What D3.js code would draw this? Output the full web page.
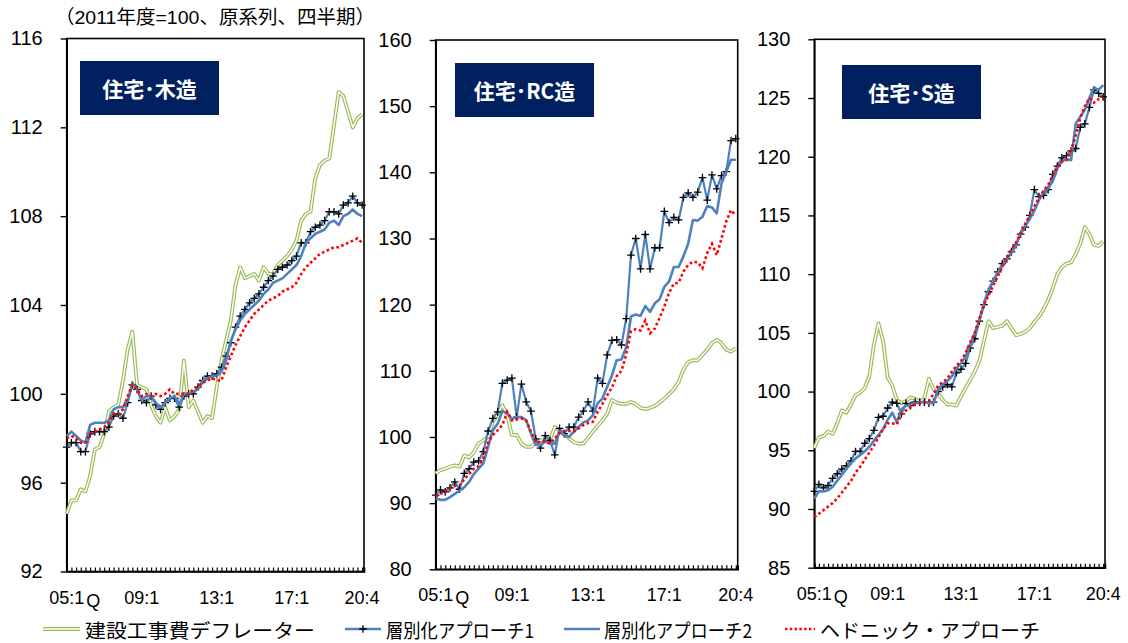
<!DOCTYPE html>
<html>
<head>
<meta charset="utf-8">
<script src="https://cdn.jsdelivr.net/npm/d3@7"></script>
<style>
  body { margin: 0; background: #fff; }
  svg { display: block; font-family: "Liberation Sans", "Noto Sans CJK JP", sans-serif; }
</style>
</head>
<body>
<svg id="chart" width="1128" height="643"></svg>
<script>
// 四半期：2005Q1〜2020Q4（64期）
const tickLabels = [
  { idx: 0, label: "05:1" },
  { idx: 16, label: "09:1" },
  { idx: 32, label: "13:1" },
  { idx: 48, label: "17:1" },
  { idx: 63, label: "20:4" }
];

const seriesNames = ["建設工事費デフレーター", "層別化アプローチ1", "層別化アプローチ2", "ヘドニック・アプローチ"];

// 住宅・木造
const woodDefl = [94.6, 95.2, 95.2, 95.7, 95.6, 96.3, 97.5, 97.6, 98.2, 99.2, 99.4, 99.5, 100.6, 102.0, 102.8, 100.4,
  100.3, 100.2, 99.5, 99.0, 98.7, 99.4, 98.8, 99.0, 99.3, 101.5, 99.4, 99.7, 99.2, 98.7, 99.0, 98.9,
  100.3, 101.5, 102.4, 103.3, 104.9, 105.7, 105.2, 105.3, 105.4, 105.1, 105.7, 105.4, 105.4, 105.8, 106.0, 106.2,
  106.5, 106.9, 107.8, 108.1, 108.2, 109.7, 110.3, 110.5, 110.6, 112.1, 113.6, 113.4, 112.7, 112.0, 112.4, 112.6];
const woodS1 = [97.6, 97.8, 97.8, 97.4, 97.4, 98.2, 98.3, 98.3, 98.3, 98.5, 99.0, 99.1, 98.9, 99.6, 100.4, 100.2,
  99.7, 99.6, 99.9, 99.5, 99.3, 99.6, 99.8, 99.8, 99.4, 99.9, 100.0, 100.0, 100.3, 100.6, 100.8, 100.8,
  100.9, 101.2, 101.7, 102.3, 103.0, 103.5, 103.8, 104.1, 104.3, 104.5, 104.8, 105.1, 105.3, 105.6, 105.7, 105.8,
  106.0, 106.2, 106.8, 106.8, 107.3, 107.5, 107.6, 107.8, 108.2, 108.2, 108.1, 108.5, 108.6, 108.9, 108.6, 108.5];
const woodS2 = [98.1, 98.3, 98.1, 97.9, 97.8, 98.6, 98.7, 98.7, 98.7, 98.8, 99.3, 99.4, 99.4, 99.7, 100.5, 100.2,
  99.7, 99.9, 99.9, 99.6, 99.4, 99.6, 99.8, 99.9, 99.5, 100.0, 100.0, 100.1, 100.2, 100.6, 100.7, 100.8,
  100.8, 101.0, 101.5, 102.4, 102.9, 103.3, 103.6, 103.8, 104.0, 104.2, 104.5, 104.7, 105.0, 105.1, 105.2, 105.4,
  105.6, 105.8, 106.2, 106.8, 107.0, 107.2, 107.3, 107.4, 107.7, 107.8, 107.6, 108.0, 108.1, 108.3, 108.1, 108.0];
const woodHed = [98.0, 98.1, 98.0, 97.8, 97.8, 98.2, 98.3, 98.4, 98.5, 98.7, 99.1, 99.1, 99.3, 99.9, 100.4, 100.2,
  99.9, 100.0, 99.9, 100.0, 99.9, 100.0, 100.2, 100.0, 100.0, 100.0, 100.0, 100.2, 100.3, 100.5, 100.6, 100.7,
  100.6, 100.6, 101.2, 101.7, 102.2, 102.6, 103.0, 103.3, 103.6, 103.8, 104.0, 104.2, 104.3, 104.4, 104.6, 104.7,
  104.8, 105.0, 105.4, 105.7, 105.9, 106.1, 106.3, 106.4, 106.5, 106.6, 106.6, 106.7, 106.8, 106.9, 107.0, 106.8];

// 住宅・RC造
const rcDefl = [94.5, 95.0, 95.2, 95.5, 95.7, 95.5, 97.2, 96.9, 97.7, 99.0, 99.5, 100.0, 102.3, 103.5, 104.8, 103.3,
  100.3, 100.3, 99.0, 98.5, 98.5, 99.2, 99.5, 99.5, 99.6, 101.5, 101.0, 100.3, 99.8, 99.2, 99.0, 99.0,
  99.9, 100.8, 101.7, 102.5, 103.5, 105.6, 105.2, 105.0, 105.0, 105.3, 105.0, 104.4, 104.2, 104.4, 104.7, 105.2,
  105.8, 106.5, 107.2, 108.3, 110.2, 111.3, 111.6, 111.6, 112.4, 113.2, 114.2, 114.7, 114.2, 113.2, 112.9, 113.4];
const rcS1 = [91.2, 92.0, 91.7, 92.3, 93.2, 92.1, 94.5, 95.2, 96.2, 96.4, 97.8, 100.9, 102.8, 103.8, 108.1, 108.6,
  108.9, 103.0, 108.0, 105.3, 103.9, 99.7, 98.3, 100.2, 99.5, 97.3, 101.3, 100.5, 101.5, 101.5, 103.0, 103.9,
  105.3, 103.9, 108.9, 108.1, 112.4, 114.6, 114.7, 113.9, 117.9, 127.5, 130.0, 125.4, 130.6, 125.4, 128.6, 128.6,
  134.1, 132.4, 133.2, 132.8, 136.2, 136.9, 136.2, 137.0, 139.2, 135.8, 139.6, 137.5, 139.5, 140.1, 144.8, 145.1];
const rcS2 = [90.7, 90.5, 90.5, 90.9, 91.4, 91.9, 92.4, 93.2, 94.4, 95.2, 96.0, 98.5, 101.0, 102.0, 103.9, 103.6,
  102.7, 103.0, 103.0, 102.5, 100.5, 98.8, 98.8, 99.3, 99.0, 99.0, 100.9, 100.3, 100.0, 100.8, 101.5, 102.2,
  102.5, 103.3, 105.1, 105.8, 107.6, 109.3, 111.6, 111.7, 113.6, 118.2, 118.5, 118.3, 119.8, 118.9, 120.2, 120.8,
  122.7, 123.5, 125.7, 125.7, 127.3, 129.2, 132.8, 132.7, 133.3, 134.9, 134.7, 133.8, 138.3, 140.1, 141.9, 141.9];
const rcHed = [91.0, 91.4, 91.7, 92.2, 92.6, 92.7, 93.6, 94.4, 95.2, 95.6, 96.8, 99.2, 100.3, 101.0, 101.8, 103.8,
  102.5, 102.7, 102.8, 102.5, 100.8, 99.3, 99.2, 99.4, 99.0, 99.8, 100.6, 100.9, 100.9, 100.8, 101.3, 101.8,
  102.1, 102.3, 103.8, 105.0, 106.3, 107.5, 109.2, 110.0, 112.5, 116.0, 116.3, 116.1, 117.6, 115.7, 116.4, 118.0,
  119.7, 121.8, 123.2, 123.3, 125.0, 126.0, 126.5, 126.4, 125.5, 127.8, 129.2, 127.5, 130.0, 132.6, 134.3, 133.5];

// 住宅・S造
const sDefl = [95.2, 96.1, 96.2, 96.6, 96.4, 97.3, 98.4, 98.2, 98.9, 99.7, 99.9, 100.3, 101.3, 104.0, 105.8, 104.3,
  101.2, 100.5, 99.3, 99.0, 99.2, 99.5, 99.4, 99.1, 99.4, 101.1, 100.2, 99.8, 99.3, 98.9, 98.9, 98.8,
  99.6, 100.3, 101.0, 101.7, 102.6, 104.3, 106.0, 105.4, 105.5, 105.6, 106.0, 105.4, 104.8, 104.9, 105.1, 105.4,
  105.9, 106.4, 107.0, 107.8, 108.8, 110.0, 110.6, 110.9, 111.0, 111.7, 112.6, 114.0, 113.4, 112.5, 112.4, 112.8];
const sS1 = [91.5, 92.1, 91.8, 92.0, 92.6, 93.0, 93.4, 93.7, 94.1, 94.9, 94.9, 95.6, 96.0, 96.7, 97.8, 97.9,
  98.6, 99.1, 99.0, 98.1, 99.0, 98.8, 99.1, 99.1, 99.1, 99.0, 99.1, 100.0, 100.4, 100.6, 100.4, 101.6,
  101.9, 102.4, 103.7, 104.5, 106.0, 107.4, 108.5, 109.4, 110.2, 110.9, 111.3, 111.9, 112.5, 113.4, 114.0, 115.0,
  117.2, 116.6, 116.7, 117.2, 118.5, 119.2, 119.9, 120.1, 120.5, 120.7, 122.5, 122.8, 124.2, 125.7, 125.4, 125.1];
const sS2 = [90.9, 91.5, 91.5, 91.6, 91.9, 92.4, 92.9, 93.4, 93.9, 94.3, 94.6, 94.9, 95.3, 95.8, 96.3, 96.8,
  97.6, 98.2, 97.4, 98.5, 98.8, 98.9, 99.0, 99.1, 99.1, 99.0, 99.0, 100.2, 100.6, 100.9, 101.3, 102.0,
  102.4, 103.0, 104.0, 105.0, 106.1, 107.5, 108.7, 109.4, 110.1, 110.7, 111.3, 111.8, 112.5, 113.5, 114.1, 114.7,
  115.4, 116.3, 117.0, 117.3, 117.9, 119.0, 119.6, 119.8, 119.7, 122.8, 123.4, 124.0, 125.0, 125.9, 125.7, 126.1];
const sHed = [89.3, 89.6, 89.9, 90.2, 90.5, 90.9, 91.4, 91.9, 92.4, 93.1, 93.6, 94.2, 94.8, 95.4, 96.1, 96.8,
  97.3, 97.3, 97.2, 98.1, 98.4, 98.7, 98.9, 99.0, 99.1, 99.2, 99.8, 100.5, 100.8, 101.1, 101.7, 102.2,
  102.6, 103.3, 104.2, 105.0, 106.2, 107.4, 108.2, 109.0, 109.8, 110.6, 111.4, 112.1, 112.7, 113.5, 114.3, 115.0,
  115.8, 116.5, 117.1, 117.6, 118.4, 119.1, 119.6, 119.7, 120.5, 121.8, 123.3, 124.3, 125.0, 124.6, 124.9, 125.0];

const svg = d3.select("#chart");

const GREEN = "#9BBB59";
const BLUE = "#4F81BD";
const RED = "#FF0000";
const NAVY = "#002060";

// タイトル
svg.append("text")
  .attr("x", 55)
  .attr("y", 24)
  .attr("font-size", "19px")
  .attr("fill", "#000")
  .attr("textLength", 320)
  .attr("lengthAdjust", "spacingAndGlyphs")
  .text("（2011年度=100、原系列、四半期）");

const panels = [
  { title: "住宅･木造", defl: woodDefl, s1: woodS1, s2: woodS2, hed: woodHed,
    domain: [92, 116], step: 4, left: 66.7, right: 364, top: 38.5, bottom: 571.5, box: [80, 61] },
  { title: "住宅･RC造", defl: rcDefl, s1: rcS1, s2: rcS2, hed: rcHed,
    domain: [80, 160], step: 10, left: 435.7, right: 737.7, top: 40, bottom: 569.3, box: [455, 63] },
  { title: "住宅･S造", defl: sDefl, s1: sS1, s2: sS2, hed: sHed,
    domain: [85, 130], step: 5, left: 814.3, right: 1105, top: 39.3, bottom: 567.7, box: [842, 65] }
];

function plus(sel, size) {
  sel.attr("d", `M${-size},0H${size}M0,${-size}V${size}`)
     .attr("stroke", "#000")
     .attr("stroke-width", 1.3)
     .attr("fill", "none");
}

panels.forEach(p => {
  const g = svg.append("g");
  const n = p.defl.length;

  const x = d3.scaleLinear().domain([0, n - 0.6]).range([p.left, p.right]);
  const y = d3.scaleLinear().domain(p.domain).range([p.bottom, p.top]);

  // 枠
  g.append("rect")
    .attr("x", p.left).attr("y", p.top)
    .attr("width", p.right - p.left).attr("height", p.bottom - p.top)
    .attr("fill", "none").attr("stroke", "#000").attr("stroke-width", 1.6);

  // y軸
  const yAxis = g.append("g")
    .attr("transform", `translate(${p.left},0)`)
    .call(d3.axisLeft(y)
      .tickValues(d3.range(p.domain[0], p.domain[1] + 0.001, p.step))
      .tickSize(6).tickPadding(18).tickSizeOuter(0));
  yAxis.select(".domain").attr("stroke-width", 1.6);
  yAxis.selectAll(".tick line").attr("stroke-width", 1.4);
  yAxis.selectAll(".tick text")
    .attr("font-size", "20px")
    .attr("font-family", "Liberation Sans, Arial, sans-serif")
    .attr("fill", "#000");

  // x軸（四半期ごとの内向き目盛）
  const xAxis = g.append("g")
    .attr("transform", `translate(0,${p.bottom})`)
    .call(d3.axisBottom(x).tickValues(d3.range(n)).tickSize(-4).tickFormat(""));
  xAxis.select(".domain").attr("stroke-width", 1.6);
  xAxis.selectAll(".tick line").attr("stroke-width", 1.2);

  tickLabels.forEach(t => {
    const tx = g.append("text")
      .attr("x", x(t.idx))
      .attr("y", p.bottom + 32)
      .attr("text-anchor", "middle")
      .attr("font-size", "18px")
      .attr("fill", "#000")
      .text(t.label);
    if (t.idx === 0) {
      const w = tx.node().getComputedTextLength();
      g.append("text")
        .attr("x", x(0) + w / 2 + 2)
        .attr("y", p.bottom + 35)
        .attr("font-size", "18px")
        .attr("fill", "#000")
        .text("Q");
    }
  });

  const line = d3.line().x((d, i) => x(i)).y(d => y(d));

  // 建設工事費デフレーター（二重線）
  g.append("path").datum(p.defl).attr("d", line)
    .attr("fill", "none").attr("stroke", GREEN).attr("stroke-width", 3.8).attr("stroke-linejoin", "round");
  g.append("path").datum(p.defl).attr("d", line)
    .attr("fill", "none").attr("stroke", "#fff").attr("stroke-width", 1.4).attr("stroke-linejoin", "round");

  // 層別化アプローチ1
  g.append("path").datum(p.s1).attr("d", line)
    .attr("fill", "none").attr("stroke", BLUE).attr("stroke-width", 2.2).attr("stroke-linejoin", "round");
  g.selectAll("path.mk").data(p.s1).enter().append("path")
    .attr("class", "mk")
    .attr("transform", (d, i) => `translate(${x(i)},${y(d)})`)
    .call(plus, 3.8);

  // 層別化アプローチ2
  g.append("path").datum(p.s2).attr("d", line)
    .attr("fill", "none").attr("stroke", BLUE).attr("stroke-width", 2.6).attr("stroke-linejoin", "round");

  // ヘドニック・アプローチ
  g.append("path").datum(p.hed).attr("d", line)
    .attr("fill", "none").attr("stroke", RED).attr("stroke-width", 2.6)
    .attr("stroke-dasharray", "2.6 2.6");

  // パネル見出し
  g.append("rect")
    .attr("x", p.box[0]).attr("y", p.box[1])
    .attr("width", 139).attr("height", 54)
    .attr("fill", NAVY);
  g.append("text")
    .attr("x", p.box[0] + 69.5)
    .attr("y", p.box[1] + 27)
    .attr("text-anchor", "middle")
    .attr("dominant-baseline", "central")
    .attr("font-family", "Noto Sans CJK JP, sans-serif")
    .attr("font-weight", "bold")
    .attr("font-size", "21px")
    .attr("fill", "#fff")
    .text(p.title);
});

// 凡例（テキスト幅は参照画像に合わせて固定）
const legendY = 629;
const legendItems = [
  { name: seriesNames[0], x0: 43, x1: 80, tx: 85, w: 230 },
  { name: seriesNames[1], x0: 345, x1: 381, tx: 386, w: 148 },
  { name: seriesNames[2], x0: 564, x1: 600, tx: 604, w: 148 },
  { name: seriesNames[3], x0: 785, x1: 815, tx: 820, w: 220 }
];
const lg = svg.append("g");
legendItems.forEach((d, i) => {
  if (i === 0) {
    lg.append("line").attr("x1", d.x0).attr("x2", d.x1).attr("y1", legendY).attr("y2", legendY)
      .attr("stroke", GREEN).attr("stroke-width", 3.8);
    lg.append("line").attr("x1", d.x0).attr("x2", d.x1).attr("y1", legendY).attr("y2", legendY)
      .attr("stroke", "#fff").attr("stroke-width", 1.4);
  } else if (i === 3) {
    lg.append("line").attr("x1", d.x0).attr("x2", d.x1).attr("y1", legendY).attr("y2", legendY)
      .attr("stroke", RED).attr("stroke-width", 2.4).attr("stroke-dasharray", "2.4 2.4");
  } else {
    lg.append("line").attr("x1", d.x0).attr("x2", d.x1).attr("y1", legendY).attr("y2", legendY)
      .attr("stroke", BLUE).attr("stroke-width", 2.6);
    if (i === 1) {
      lg.append("path").attr("transform", `translate(${(d.x0 + d.x1) / 2},${legendY})`).call(plus, 3.8);
    }
  }
  lg.append("text")
    .attr("x", d.tx)
    .attr("y", legendY)
    .attr("dominant-baseline", "central")
    .attr("font-family", "Noto Sans CJK JP, sans-serif")
    .attr("font-size", "19px")
    .attr("textLength", d.w)
    .attr("lengthAdjust", "spacingAndGlyphs")
    .attr("fill", "#000")
    .text(d.name);
});
</script>
</body>
</html>
